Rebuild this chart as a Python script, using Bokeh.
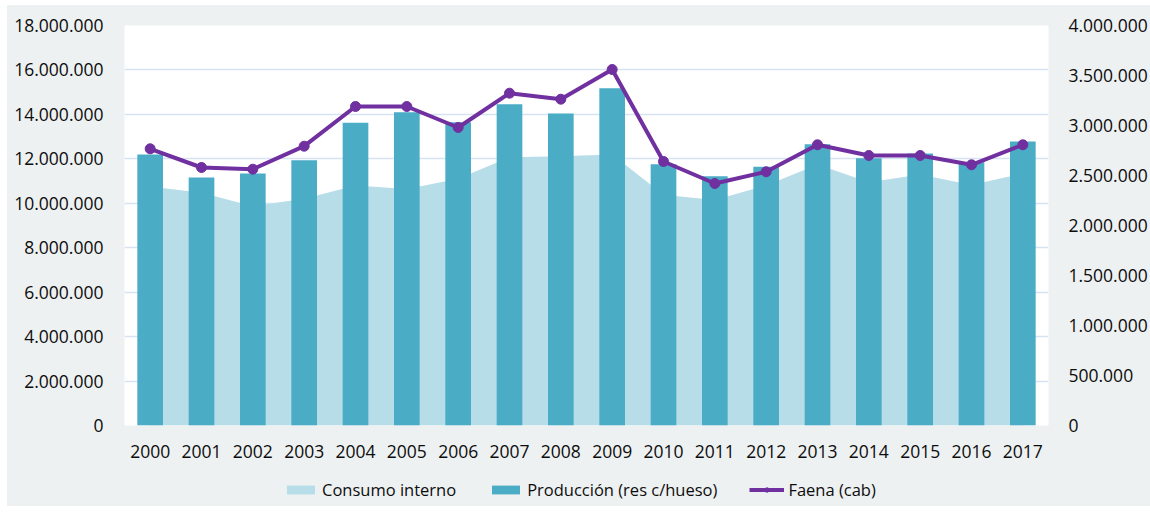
from bokeh.plotting import figure
from bokeh.layouts import column
from bokeh.models import (ColumnDataSource, Range1d, LinearAxis, FixedTicker,
                          CustomJSTickFormatter, Legend, LegendItem, FactorRange)
from bokeh.embed import file_html
from bokeh.resources import INLINE

years = [str(y) for y in range(2000, 2018)]
produccion = [12200000, 11160000, 11340000, 11940000, 13620000, 14100000, 13650000,
              14460000, 14040000, 15180000, 11760000, 11220000, 11640000, 12660000,
              12030000, 12240000, 11850000, 12780000]
consumo = [10750000, 10470000, 9870000, 10200000, 10800000, 10640000, 11100000,
           12070000, 12120000, 12200000, 10380000, 10150000, 10800000, 11750000,
           10950000, 11300000, 10820000, 11340000]
faena = [2767000, 2580000, 2563000, 2793000, 3190000, 3190000, 2980000, 3323000,
         3263000, 3560000, 2640000, 2420000, 2537000, 2807000, 2700000, 2700000,
         2607000, 2807000]
left_ticks = [0, 2000000, 4000000, 6000000, 8000000, 10000000, 12000000,
              14000000, 16000000, 18000000]
right_ticks = [0, 500000, 1000000, 1500000, 2000000, 2500000, 3000000,
               3500000, 4000000]
legend_labels = ["Consumo interno", "Producción (res c/hueso)", "Faena (cab)"]

src = ColumnDataSource(dict(year=years, prod=produccion, cons=consumo, faena=faena))

FONT = "Open Sans"
TXT = "#0d0d0d"
BG = "#EDF1F2"
GRID = "#D7E3F1"
C_AREA = "#B7DDE8"
C_BAR = "#4BACC6"
C_LINE = "#7030A0"


def add_glyphs(fig):
    a = fig.varea(x="year", y1=0, y2="cons", source=src, fill_color=C_AREA)
    b = fig.vbar(x="year", top="prod", width=0.5, source=src, fill_color=C_BAR,
                 line_color=None)
    l = fig.line(x="year", y="faena", source=src, y_range_name="faena",
                 line_color=C_LINE, line_width=4)
    s = fig.scatter(x="year", y="faena", source=src, y_range_name="faena",
                    size=10, fill_color=C_LINE, line_color=C_LINE)
    return a, b, l, s


p = figure(width=1143, height=465, x_range=FactorRange(*years, range_padding=0),
           y_range=Range1d(left_ticks[0], left_ticks[-1]),
           output_backend="svg", toolbar_location=None,
           min_border_left=117, min_border_right=102, min_border_top=20,
           min_border_bottom=45)
p.extra_y_ranges = {"faena": Range1d(right_ticks[0], right_ticks[-1])}
p.border_fill_color = BG
p.background_fill_color = "white"
p.outline_line_color = None

fmt = CustomJSTickFormatter(code="return Math.round(tick).toString().replace(/\\B(?=(\\d{3})+(?!\\d))/g, '.');")

add_glyphs(p)

ax = p.yaxis[0]
ax.ticker = FixedTicker(ticks=left_ticks)
ax.formatter = fmt
ax2 = LinearAxis(y_range_name="faena", ticker=FixedTicker(ticks=right_ticks),
                 formatter=fmt)
p.add_layout(ax2, "right")
xa = p.xaxis[0]
for a in [ax, ax2, xa]:
    a.axis_line_color = None
    a.major_tick_line_color = None
    a.minor_tick_line_color = None
    a.major_label_text_font = FONT
    a.major_label_text_font_size = "17.5px"
    a.major_label_text_color = TXT
ax.major_label_standoff = 15
ax2.major_label_standoff = 14
xa.major_label_standoff = 13

p.xgrid.grid_line_color = None
p.ygrid.grid_line_color = GRID
p.ygrid.grid_line_width = 1.5
p.ygrid.ticker = FixedTicker(ticks=left_ticks)

# legend strip below the chart (hidden copies of the glyphs feed the legend)
lg = figure(width=1143, height=36, x_range=FactorRange(*years, range_padding=0),
            y_range=Range1d(left_ticks[0], left_ticks[-1]),
            x_axis_type=None, y_axis_type=None, output_backend="svg",
            toolbar_location=None, min_border=0)
lg.extra_y_ranges = {"faena": Range1d(right_ticks[0], right_ticks[-1])}
lg.border_fill_color = BG
lg.background_fill_color = BG
lg.outline_line_color = None
lg.grid.grid_line_color = None
d_area, d_bar, d_line, d_pts = add_glyphs(lg)
for r in (d_area, d_bar, d_line, d_pts):
    r.visible = False

legend = Legend(items=[
    LegendItem(label=legend_labels[0], renderers=[d_area]),
    LegendItem(label=legend_labels[1], renderers=[d_bar]),
    LegendItem(label=legend_labels[2], renderers=[d_line, d_pts]),
], orientation="horizontal", location=(159, 5),
    label_text_font=FONT, label_text_font_size="16.5px", label_text_color=TXT,
    glyph_width=35, glyph_height=11, label_standoff=4, spacing=32,
    padding=0, margin=0, border_line_color=None, background_fill_alpha=0,
    inactive_fill_alpha=0)
lg.add_layout(legend, "center")

layout = column(p, lg, spacing=0, margin=(5, 0, 0, 7),
                styles={"background-color": BG})
open("out.html", "w").write(file_html(layout, INLINE))
